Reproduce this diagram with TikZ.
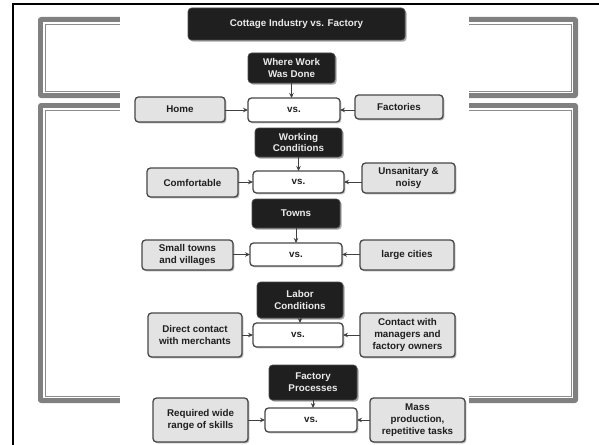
\documentclass[tikz,border=0pt]{standalone}
\usepackage{fontspec}
\setmainfont{Liberation Sans}
\usetikzlibrary{shadows,arrows.meta}
\begin{document}
\begin{tikzpicture}[x=1pt,y=-1pt,
  every node/.style={font=\bfseries\fontsize{9.8}{11.8}\selectfont, align=center, inner sep=0pt, outer sep=0pt},
  hdr/.style={fill=black!88, text=white!92!black, rounded corners=3.5pt, draw=black!70, line width=0.6pt,
     drop shadow={shadow xshift=1.6pt, shadow yshift=-1.6pt, fill=black!35, opacity=1}},
  side/.style={fill=black!11, draw=black!72, line width=1.3pt, rounded corners=3.5pt, text=black!88,
     drop shadow={shadow xshift=1.4pt, shadow yshift=-1.4pt, fill=black!30, opacity=1}},
  vsbox/.style={fill=white, draw=black!72, line width=1.3pt, rounded corners=3.5pt, text=black!88,
     drop shadow={shadow xshift=1.4pt, shadow yshift=-1.4pt, fill=black!25, opacity=1}},
  conn/.style={draw=black!75, line width=0.9pt, -{Stealth[length=5pt,width=4.5pt]}},
  band/.style={fill=black!50, rounded corners=3pt},
  frameline/.style={draw=black!45, line width=0.8pt}
]
\useasboundingbox (0,0) rectangle (599,444);
\fill[white] (0,0) rectangle (599,444);
% background frames
\fill[band] (38,17) rectangle (578,98);
\fill[white] (43,22) rectangle (573,93);
\draw[frameline] (45,24) rectangle (571,91);
\fill[band] (38,103) rectangle (578,403);
\fill[white] (43,108) rectangle (573,398);
\draw[frameline] (45,110) rectangle (571,396);
% central white area
\fill[white] (120,6) rectangle (469,444);
% outer black frame
\draw[line width=2pt, line cap=rect] (13,446) -- (13,4) -- (601,4);

% nodes
\node[hdr, minimum width=217pt, minimum height=32pt] (title) at (296.5,24) {Cottage Industry vs. Factory};

\node[hdr, minimum width=87pt, minimum height=30pt] (h1) at (291.5,68) {Where Work\\Was Done};
\node[side, minimum width=90pt, minimum height=25pt] (l1) at (180,109.5) {Home};
\node[vsbox, minimum width=92pt, minimum height=24pt] (v1) at (294,110) {vs.};
\node[side, minimum width=88pt, minimum height=24pt] (r1) at (399,107) {Factories};

\node[hdr, minimum width=87pt, minimum height=29pt] (h2) at (298.5,142.5) {Working\\Conditions};
\node[side, minimum width=91pt, minimum height=29pt] (l2) at (192.5,182.5) {Comfortable};
\node[vsbox, minimum width=91pt, minimum height=22pt] (v2) at (298.5,182) {vs.};
\node[side, minimum width=93pt, minimum height=30pt] (r2) at (408.5,178) {Unsanitary \&\\noisy};

\node[hdr, minimum width=88pt, minimum height=29pt] (h3) at (296,213.5) {Towns};
\node[side, minimum width=91pt, minimum height=30pt] (l3) at (187.5,255) {Small towns\\and villages};
\node[vsbox, minimum width=92pt, minimum height=23pt] (v3) at (296,254.5) {vs.};
\node[side, minimum width=94pt, minimum height=30pt] (r3) at (407,255) {large cities};

\node[hdr, minimum width=86pt, minimum height=36pt] (h4) at (300,300) {Labor\\Conditions};
\node[side, minimum width=94pt, minimum height=44pt] (l4) at (195,335) {Direct contact\\with merchants};
\node[vsbox, minimum width=90pt, minimum height=24pt] (v4) at (298,335) {vs.};
\node[side, minimum width=95pt, minimum height=44pt] (r4) at (407.5,335) {Contact with\\managers and\\factory owners};

\node[hdr, minimum width=88pt, minimum height=35pt] (h5) at (313,382.5) {Factory\\Processes};
\node[side, minimum width=95pt, minimum height=44pt] (l5) at (200.5,420) {Required wide\\range of skills};
\node[vsbox, minimum width=92pt, minimum height=24pt] (v5) at (311,420) {vs.};
\node[side, minimum width=95pt, minimum height=44pt] (r5) at (417.5,420) {Mass\\production,\\repetitive tasks};

% connectors
\foreach \i in {1,...,5}{
  \draw[conn] (h\i.south) -- (h\i.south |- v\i.north);
  \draw[conn] (l\i.east |- v\i.west) -- (v\i.west);
  \draw[conn] (r\i.west |- v\i.east) -- (v\i.east);
}
\end{tikzpicture}
\end{document}
